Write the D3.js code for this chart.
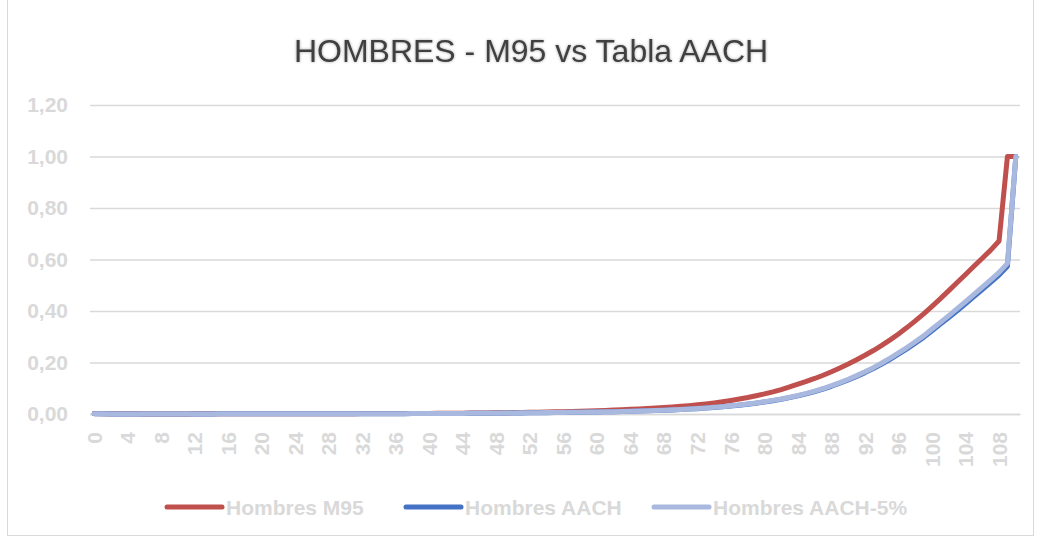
<!DOCTYPE html>
<html>
<head>
<meta charset="utf-8">
<script src="https://cdn.jsdelivr.net/npm/d3@7"></script>
<style>
  body { margin: 0; background: #fff; }
  text { font-family: "Liberation Sans", Arial, sans-serif; }
</style>
</head>
<body>
<div id="chart"></div>
<script>
// Ages 0..110
const ages = d3.range(0, 111);

// Hombres M95 (qx)
const m95 = [
  0.0015, 0.0009, 0.0007, 0.0006, 0.0005, 0.0005, 0.0004, 0.0004, 0.0004, 0.0004,
  0.0004, 0.0004, 0.0005, 0.0005, 0.0006, 0.0007, 0.0008, 0.0009, 0.0010, 0.0011,
  0.0012, 0.0012, 0.0013, 0.0013, 0.0013, 0.0013, 0.0013, 0.0013, 0.0013, 0.0013,
  0.0014, 0.0014, 0.0015, 0.0015, 0.0016, 0.0017, 0.0018, 0.0019, 0.0020, 0.0022,
  0.0024, 0.0026, 0.0028, 0.0030, 0.0033, 0.0036, 0.0039, 0.0042, 0.0046, 0.0050,
  0.0055, 0.0060, 0.0065, 0.0071, 0.0077, 0.0084, 0.0091, 0.0099, 0.0108, 0.0118,
  0.0128, 0.0140, 0.0152, 0.0165, 0.0180, 0.0196, 0.0213, 0.0232, 0.0252, 0.0274,
  0.0298, 0.0325, 0.0355, 0.0390, 0.0430, 0.0475, 0.0525, 0.0580, 0.0640, 0.0710,
  0.0780, 0.0860, 0.0950, 0.1050, 0.1160, 0.1265, 0.1380, 0.1505, 0.1640, 0.1785,
  0.1940, 0.2105, 0.2280, 0.2465, 0.2665, 0.2880, 0.3110, 0.3355, 0.3615, 0.3890,
  0.4180, 0.4480, 0.4790, 0.5105, 0.5420, 0.5735, 0.6050, 0.6365, 0.6720, 1.0000,
  1.0000
];

// Hombres AACH (qx)
const aach = [
  0.0010, 0.0006, 0.0004, 0.0003, 0.0003, 0.0002, 0.0002, 0.0002, 0.0002, 0.0002,
  0.0002, 0.0002, 0.0003, 0.0003, 0.0004, 0.0005, 0.0006, 0.0007, 0.0008, 0.0008,
  0.0009, 0.0009, 0.0009, 0.0009, 0.0009, 0.0009, 0.0009, 0.0009, 0.0009, 0.0010,
  0.0010, 0.0010, 0.0011, 0.0011, 0.0012, 0.0012, 0.0013, 0.0014, 0.0015, 0.0016,
  0.0017, 0.0018, 0.0019, 0.0021, 0.0023, 0.0025, 0.0027, 0.0029, 0.0032, 0.0035,
  0.0038, 0.0042, 0.0045, 0.0048, 0.0052, 0.0056, 0.0060, 0.0064, 0.0068, 0.0073,
  0.0078, 0.0084, 0.0090, 0.0097, 0.0105, 0.0113, 0.0123, 0.0134, 0.0146, 0.0158,
  0.0173, 0.0190, 0.0208, 0.0230, 0.0253, 0.0280, 0.0309, 0.0342, 0.0380, 0.0421,
  0.0466, 0.0517, 0.0573, 0.0637, 0.0705, 0.0783, 0.0871, 0.0969, 0.1077, 0.1195,
  0.1322, 0.1459, 0.1607, 0.1764, 0.1940, 0.2127, 0.2323, 0.2528, 0.2749, 0.2975,
  0.3235, 0.3490, 0.3745, 0.4010, 0.4280, 0.4555, 0.4830, 0.5110, 0.5395, 0.5740,
  1.0000
];

// Hombres AACH-5% (qx)
const aach5 = [
  0.0010, 0.0006, 0.0004, 0.0003, 0.0003, 0.0002, 0.0002, 0.0002, 0.0002, 0.0002,
  0.0002, 0.0002, 0.0003, 0.0003, 0.0004, 0.0005, 0.0006, 0.0007, 0.0008, 0.0008,
  0.0009, 0.0009, 0.0009, 0.0009, 0.0009, 0.0009, 0.0009, 0.0009, 0.0009, 0.0010,
  0.0010, 0.0010, 0.0011, 0.0011, 0.0012, 0.0013, 0.0013, 0.0014, 0.0015, 0.0016,
  0.0017, 0.0019, 0.0020, 0.0022, 0.0024, 0.0026, 0.0028, 0.0030, 0.0033, 0.0036,
  0.0039, 0.0044, 0.0047, 0.0050, 0.0054, 0.0058, 0.0062, 0.0066, 0.0070, 0.0075,
  0.0080, 0.0086, 0.0092, 0.0099, 0.0107, 0.0116, 0.0126, 0.0137, 0.0149, 0.0162,
  0.0177, 0.0194, 0.0213, 0.0235, 0.0259, 0.0286, 0.0316, 0.0350, 0.0388, 0.0430,
  0.0476, 0.0528, 0.0585, 0.0650, 0.0720, 0.0800, 0.0890, 0.0990, 0.1100, 0.1220,
  0.1350, 0.1490, 0.1640, 0.1800, 0.1980, 0.2170, 0.2370, 0.2580, 0.2805, 0.3035,
  0.3300, 0.3560, 0.3820, 0.4090, 0.4365, 0.4645, 0.4925, 0.5210, 0.5500, 0.5850,
  1.0000
];

const seriesNames = ["Hombres M95", "Hombres AACH", "Hombres AACH-5%"];
const seriesColors = ["#c0504d", "#4472c4", "#a9b8de"];
const seriesValues = [m95, aach, aach5];
const yTicks = [0, 0.2, 0.4, 0.6, 0.8, 1.0, 1.2];
const xTicks = d3.range(0, 109, 4);

const W = 1041, H = 542;
const plot = { left: 90, right: 1020, top: 105, bottom: 414 };

const svg = d3.select("#chart")
  .append("svg")
  .attr("width", W)
  .attr("height", H);

// chart frame
svg.append("rect")
  .attr("x", 7.5).attr("y", -5)
  .attr("width", 1026).attr("height", 540.5)
  .attr("fill", "none")
  .attr("stroke", "#d9d9d9")
  .attr("stroke-width", 1);

// title glow
const defs = svg.append("defs");
const glow = defs.append("filter").attr("id", "glow")
  .attr("x", "-10%").attr("y", "-50%").attr("width", "120%").attr("height", "200%");
glow.append("feGaussianBlur").attr("in", "SourceAlpha").attr("stdDeviation", 1.5).attr("result", "b");
glow.append("feComponentTransfer").attr("in", "b").attr("result", "b2")
  .append("feFuncA").attr("type", "linear").attr("slope", 0.35);
const merge = glow.append("feMerge");
merge.append("feMergeNode").attr("in", "b2");
merge.append("feMergeNode").attr("in", "SourceGraphic");

svg.append("text")
  .attr("x", 531)
  .attr("y", 62)
  .attr("text-anchor", "middle")
  .attr("font-size", 32)
  .attr("fill", "#404040")
  .attr("filter", "url(#glow)")
  .text("HOMBRES - M95 vs Tabla AACH");

const xScale = d3.scaleBand()
  .domain(ages)
  .range([plot.left, plot.right]);

const yScale = d3.scaleLinear()
  .domain([0, 1.2])
  .range([plot.bottom, plot.top]);

const fmt = d3.formatLocale({ decimal: ",", thousands: ".", grouping: [3], currency: ["", ""] }).format(".2f");

// y axis with gridlines
const yAxis = d3.axisLeft(yScale)
  .tickValues(yTicks)
  .tickSize(-(plot.right - plot.left))
  .tickPadding(22)
  .tickFormat(fmt);

const gy = svg.append("g")
  .attr("transform", `translate(${plot.left},0)`)
  .call(yAxis);
gy.select(".domain").remove();
gy.selectAll(".tick line")
  .attr("stroke", "#d9d9d9")
  .attr("stroke-width", 1.5);
gy.selectAll(".tick text")
  .attr("font-family", "Liberation Sans, Arial, sans-serif")
  .attr("font-size", 21)
  .attr("font-weight", "bold")
  .attr("fill", "#d9d9d9");

// x axis
const xAxis = d3.axisBottom(xScale)
  .tickValues(xTicks)
  .tickSize(0)
  .tickPadding(0);

const gx = svg.append("g")
  .attr("transform", `translate(0,${plot.bottom})`)
  .call(xAxis);
gx.select(".domain")
  .attr("stroke", "#d9d9d9")
  .attr("stroke-width", 1.5);
gx.selectAll(".tick text")
  .attr("font-family", "Liberation Sans, Arial, sans-serif")
  .attr("font-size", 21)
  .attr("font-weight", "bold")
  .attr("fill", "#d9d9d9")
  .attr("text-anchor", "end")
  .attr("y", 0)
  .attr("dy", "0.36em")
  .attr("transform", "translate(0,18) rotate(-90)");

// series lines
const line = d3.line()
  .x((d, i) => xScale(ages[i]) + xScale.bandwidth() / 2)
  .y(d => yScale(d));

seriesValues.forEach((vals, k) => {
  svg.append("path")
    .datum(vals)
    .attr("fill", "none")
    .attr("stroke", seriesColors[k])
    .attr("stroke-width", 5)
    .attr("stroke-linejoin", "round")
    .attr("stroke-linecap", "round")
    .attr("d", line);
});

// legend
const legendX = [167, 406, 654];
const legend = svg.append("g").attr("transform", "translate(0,507)");
seriesNames.forEach((name, k) => {
  legend.append("line")
    .attr("x1", legendX[k]).attr("x2", legendX[k] + 55)
    .attr("y1", 0).attr("y2", 0)
    .attr("stroke", seriesColors[k])
    .attr("stroke-width", 5)
    .attr("stroke-linecap", "round");
  legend.append("text")
    .attr("x", legendX[k] + 59)
    .attr("y", 0)
    .attr("dy", "0.36em")
    .attr("font-size", 21)
    .attr("font-weight", "bold")
    .attr("fill", "#d9d9d9")
    .text(name);
});
</script>
</body>
</html>
